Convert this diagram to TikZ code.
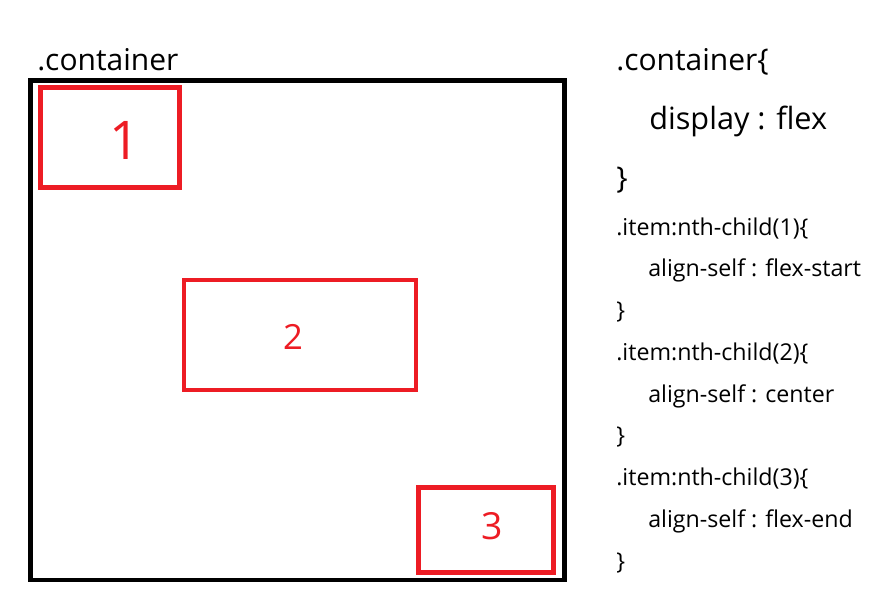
\documentclass[tikz,border=0pt]{standalone}
\usepackage{fontspec}
\setmainfont{Open Sans}
\usetikzlibrary{fit}
\definecolor{paintred}{HTML}{ED1C24}

\begin{document}
\begin{tikzpicture}[
  x=0.75pt, y=-0.75pt,
  outerbox/.style={draw=black, line width=3.4pt, inner sep=0pt},
  itembox/.style={draw=paintred, line width=3.2pt, inner sep=0pt},
  digit/.style={text=paintred, inner sep=0pt},
  bigcode/.style={anchor=base west, inner sep=0pt, font=\fontsize{22.5pt}{27pt}\selectfont},
  code/.style={anchor=base west, inner sep=0pt, font=\fontsize{17.4pt}{21pt}\selectfont}
]
  \useasboundingbox (0,0) rectangle (889,612);

  % flex container and its items
  \node[bigcode] (title) at (37,70) {.container};
  \node[outerbox, fit={(30.5,80.5) (564.5,580)}] (container) {};
  \node[itembox, fit={(40.5,87.5) (179.5,187.5)}] (item1) {};
  \node[itembox, fit={(184,279.7) (416.3,390)}] (item2) {};
  \node[itembox, fit={(418.5,487.5) (553.5,572.5)}] (item3) {};

  \node[digit, font=\fontsize{40pt}{40pt}\selectfont] (n1) at (125,140) {1};
  \node[digit, font=\fontsize{26pt}{26pt}\selectfont] (n2) at (293,337) {2};
  \node[digit, font=\fontsize{28pt}{28pt}\selectfont] (n3) at (492,526) {3};

  % css rules
  \node[bigcode] (c1) at (616,70) {.container\{};
  \node[bigcode, font=\fontsize{23pt}{27pt}\selectfont] (c2) at (649,129) {display : flex};
  \node[bigcode] (c3) at (616,188) {\}};

  \foreach \k/\xx/\txt in {0/616/{.item:nth-child(1)\{}, 1/648/{align-self : flex-start}, 2/616/{\}},
                          3/616/{.item:nth-child(2)\{}, 4/648/{align-self : center}, 5/616/{\}},
                          6/616/{.item:nth-child(3)\{}, 7/648/{align-self : flex-end}, 8/616/{\}}} {
    \node[code] (r\k) at (\xx, 235+41.75*\k) {\txt};
  }
\end{tikzpicture}
\end{document}
